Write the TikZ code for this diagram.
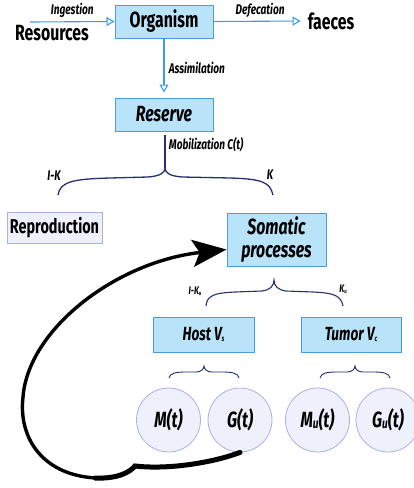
\documentclass[tikz,border=0pt]{standalone}
\usepackage{fontspec}
\setmainfont{Fira Sans}[FakeStretch=0.72]
\usetikzlibrary{arrows.meta}
\definecolor{boxfill}{HTML}{B9E3F9}
\definecolor{boxline}{HTML}{4A9BE0}
\definecolor{arrowblue}{HTML}{3D9BF0}
\definecolor{bracecol}{HTML}{26306E}
\definecolor{lavfill}{HTML}{EEF0FC}
\definecolor{lavline}{HTML}{AAB0E6}
\begin{document}
\begin{tikzpicture}[x=1pt,y=-1pt,
 box/.style={draw=boxline, fill=boxfill, line width=1pt, inner sep=0pt, align=center},
 flow/.style={draw=arrowblue, line width=1.1pt, -{Triangle[open,length=8pt,width=9pt]}},
 lbl/.style={font=\fontsize{14}{15}\selectfont\bfseries\itshape},
 slbl/.style={font=\fontsize{11}{12}\selectfont\bfseries\itshape},
 brc/.style={draw=bracecol, line width=1.3pt},
 circ/.style={circle, draw=lavline, fill=lavfill, line width=0.8pt, minimum size=64pt, inner sep=0pt, font=\fontsize{22}{23}\selectfont\bfseries\itshape}]
\useasboundingbox (0,0) rectangle (414,488);
% top row
\node[box, minimum width=98pt, minimum height=33pt, font=\fontsize{22}{23}\selectfont\bfseries] (org) at (164,21.5) {Organism};
\node[font=\bfseries\fontsize{22}{23}\selectfont, inner sep=1pt] (res) at (52,33) {Resources};
\node[font=\bfseries\fontsize{22}{23}\selectfont, inner sep=1pt] (fae) at (331,21) {faeces};
\coordinate (ingstart) at (30,22);
\draw[flow] (ingstart) -- (org.west) node[midway, above=0pt, lbl] {Ingestion};
\draw[flow, shorten >=6pt] (org.east) -- (fae.west) node[midway, above=0pt, lbl] {Defecation};
% reserve
\node[box, minimum width=98pt, minimum height=33pt, font=\fontsize{22}{23}\selectfont\bfseries\itshape] (rsv) at (164,114.5) {Reserve};
\draw[flow, shorten >=5pt] (org.south) -- (rsv.north) node[midway, right=1pt, lbl] {Assimilation};
\coordinate (cusp1) at (165,168);
\draw[brc] (165,135) -- (cusp1) node[pos=0.3, right=0pt, lbl, text=black] {Mobilization C(t)};
\draw[brc] (58,195) .. controls (60,181) and (75,179) .. (110,178) -- (148,177) .. controls (160,176) and (165,173) .. (cusp1)
  .. controls (165,173) and (170,176) .. (182,177) -- (230,178) .. controls (262,179) and (270,182) .. (273,195);
\node[lbl] (ik) at (54,176) {I-K};
\node[lbl] (k) at (270,175) {K};
% second level
\node[draw=lavline, fill=lavfill, line width=1pt, minimum width=95pt, minimum height=31pt, inner sep=0pt, font=\fontsize{20}{21}\selectfont\bfseries] (rep) at (54.5,227.5) {Reproduction};
\node[box, minimum width=99pt, minimum height=53pt, font=\fontsize{22}{23}\selectfont\bfseries\itshape] (som) at (276.5,239.5) {Somatic\\processes};
\coordinate (cusp2) at (274,280);
\draw[brc, line width=1.1pt] (206,306) .. controls (207,295) and (215,293) .. (235,292) -- (262,291) .. controls (270,290) and (274,286) .. (cusp2)
  .. controls (274,286) and (278,290) .. (286,291) -- (313,292) .. controls (333,293) and (341,295) .. (343,306);
\node[slbl] (iku) at (195,291) {I-K\raisebox{-1pt}{\fontsize{6}{6}\selectfont u}};
\node[slbl] (ku) at (343,289) {K\raisebox{-1pt}{\fontsize{6}{6}\selectfont u}};
% host / tumor
\node[box, minimum width=101pt, minimum height=35pt, font=\fontsize{19}{20}\selectfont\bfseries\itshape] (host) at (203.5,334.5) {Host V\raisebox{-1pt}{\fontsize{8}{8}\selectfont s}};
\node[box, minimum width=100pt, minimum height=35pt, font=\fontsize{19}{20}\selectfont\bfseries\itshape] (tum) at (351,334.5) {Tumor V\raisebox{-1pt}{\fontsize{8}{8}\selectfont c}};
\coordinate (cusp3) at (204,366);
\coordinate (cusp4) at (355,366);
\draw[brc, line width=0.9pt] (169,378) .. controls (170,373) and (176,372) .. (186,372) -- (196,372) .. controls (201,372) and (204,369) .. (cusp3)
  .. controls (204,369) and (207,372) .. (212,372) -- (222,372) .. controls (232,372) and (238,373) .. (239,378);
\draw[brc, line width=0.9pt] (320,378) .. controls (321,373) and (327,372) .. (337,372) -- (347,372) .. controls (352,372) and (355,369) .. (cusp4)
  .. controls (355,369) and (358,372) .. (363,372) -- (373,372) .. controls (383,372) and (389,373) .. (390,378);
% circles
\node[circ] (m) at (168.5,420) {M(t)};
\node[circ] (g) at (240,420) {G(t)};
\node[circ] (mu) at (317.5,420) {M\raisebox{-1pt}{\fontsize{14}{14}\selectfont u}(t)};
\node[circ] (gu) at (388,420) {G\raisebox{-1pt}{\fontsize{14}{14}\selectfont u}(t)};
% big black arrow
\draw[line width=5pt, line cap=round] (g.south) .. controls (215,462) and (170,470) .. (135,466)
  .. controls (130,472) and (118,479) .. (95,478);
\draw[line width=3.4pt, -{Stealth[length=34pt,width=27pt,inset=7pt]}] (97,478) .. controls (45,476) and (18,440) .. (23,397)
  .. controls (28,330) and (115,262) .. ([yshift=-10pt]som.west);
\end{tikzpicture}
\end{document}
